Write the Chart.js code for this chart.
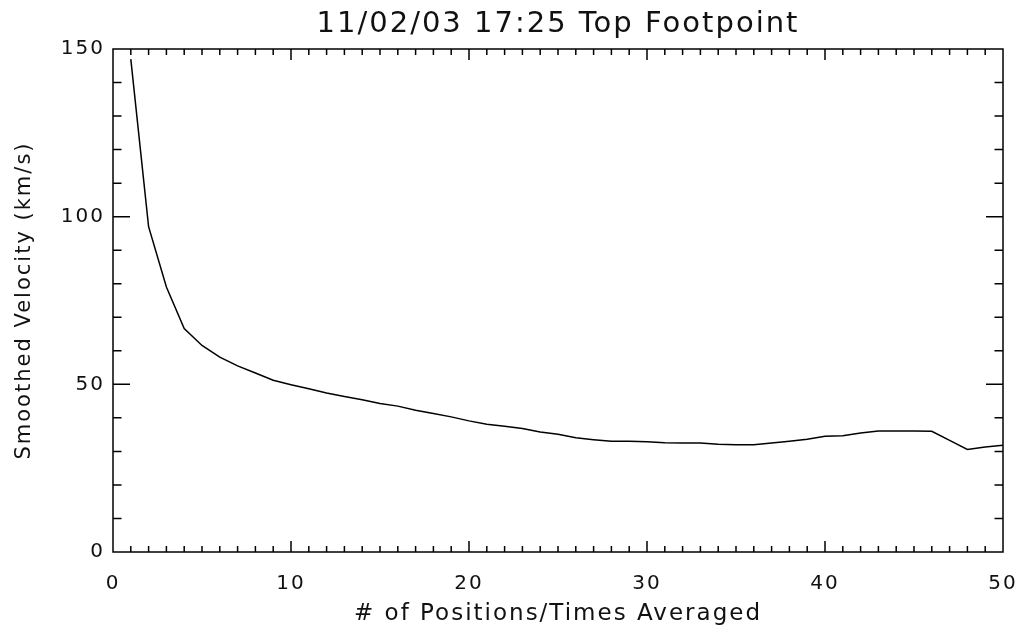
<!DOCTYPE html>
<html>
<head>
<meta charset="utf-8">
<script src="https://cdn.jsdelivr.net/npm/chart.js@4"></script>
<style>
  html, body { margin: 0; padding: 0; background: #fff; }
  #wrap { width: 1022px; height: 630px; }
</style>
</head>
<body>
<div id="wrap"><canvas id="velChart"></canvas></div>
<script>
// number of positions/times averaged
const positions = [];
for (let i = 1; i <= 50; i++) positions.push(i);

// smoothed velocity (km/s)
const velocity = [
  147, 97, 79, 66.6, 61.6, 58.1, 55.5, 53.4, 51.2, 49.9,
  48.7, 47.4, 46.4, 45.4, 44.3, 43.5, 42.3, 41.3, 40.3, 39.1,
  38.1, 37.5, 36.8, 35.8, 35.1, 34.1, 33.5, 33.0, 33.0, 32.9,
  32.6, 32.5, 32.5, 32.1, 32.0, 32.0, 32.5, 33.0, 33.6, 34.5,
  34.7, 35.5, 36.1, 36.1, 36.1, 36.0, 33.3, 30.6, 31.3, 31.8
];

const xTicks = [0, 10, 20, 30, 40, 50];
const yTicks = [0, 50, 100, 150];

const fontFamily = "'DejaVu Sans', sans-serif";
const ink = '#111';

// IDL style frame: box around the plot with inward ticks on all four sides
const idlFrame = {
  id: 'idlFrame',
  beforeDraw(chart) {
    // wider spacing, closer to the vector font of the original
    chart.ctx.letterSpacing = '2px';
  },
  afterDraw(chart) {
    const { ctx, chartArea: a, scales: { x, y } } = chart;
    ctx.save();
    ctx.strokeStyle = '#000';
    ctx.lineWidth = 1.5;
    ctx.strokeRect(a.left, a.top, a.right - a.left, a.bottom - a.top);
    ctx.beginPath();
    for (let v = 1; v < 50; v++) {
      const len = v % 10 === 0 ? 11 : 6;
      const px = x.getPixelForValue(v);
      ctx.moveTo(px, a.bottom); ctx.lineTo(px, a.bottom - len);
      ctx.moveTo(px, a.top); ctx.lineTo(px, a.top + len);
    }
    for (let v = 10; v < 150; v += 10) {
      const len = v % 50 === 0 ? 17 : 8.5;
      const py = y.getPixelForValue(v);
      ctx.moveTo(a.left, py); ctx.lineTo(a.left + len, py);
      ctx.moveTo(a.right, py); ctx.lineTo(a.right - len, py);
    }
    ctx.stroke();
    ctx.restore();
  }
};

const ctx = document.getElementById('velChart').getContext('2d');
new Chart(ctx, {
  type: 'line',
  data: {
    labels: positions,
    datasets: [{
      data: positions.map((p, i) => ({ x: p, y: velocity[i] })),
      borderColor: '#000',
      borderWidth: 1.5,
      pointRadius: 0,
      tension: 0,
      fill: false
    }]
  },
  options: {
    responsive: true,
    maintainAspectRatio: false,
    animation: false,
    layout: { padding: { top: 0, right: 19, bottom: 0, left: 0 } },
    plugins: {
      legend: { display: false },
      tooltip: { enabled: false },
      title: {
        display: true,
        fullSize: false,
        text: '11/02/03 17:25 Top Footpoint',
        color: ink,
        font: { family: fontFamily, size: 29, weight: 'normal' },
        padding: { top: 6.6, bottom: 7.6 }
      }
    },
    scales: {
      x: {
        type: 'linear',
        min: 0,
        max: 50,
        afterBuildTicks: s => { s.ticks = xTicks.map(v => ({ value: v })); },
        afterFit: s => { s.height = 78; s.paddingLeft = 0; s.paddingRight = 0; },
        grid: { display: false, drawTicks: false },
        border: { display: false },
        ticks: {
          color: ink,
          padding: 20,
          maxRotation: 0,
          font: { family: fontFamily, size: 20 }
        },
        title: {
          display: true,
          text: '# of Positions/Times Averaged',
          color: ink,
          font: { family: fontFamily, size: 23 },
          padding: { top: 0, bottom: 2 }
        }
      },
      y: {
        type: 'linear',
        min: 0,
        max: 150,
        afterBuildTicks: s => { s.ticks = yTicks.map(v => ({ value: v })); },
        afterFit: s => { s.width = 113; },
        grid: { display: false, drawTicks: false },
        border: { display: false },
        ticks: {
          color: ink,
          padding: 8,
          font: { family: fontFamily, size: 20 }
        },
        title: {
          display: true,
          text: 'Smoothed Velocity (km/s)',
          color: ink,
          font: { family: fontFamily, size: 21 },
          padding: { top: 12, bottom: 0 }
        }
      }
    }
  },
  plugins: [idlFrame]
});
</script>
</body>
</html>
